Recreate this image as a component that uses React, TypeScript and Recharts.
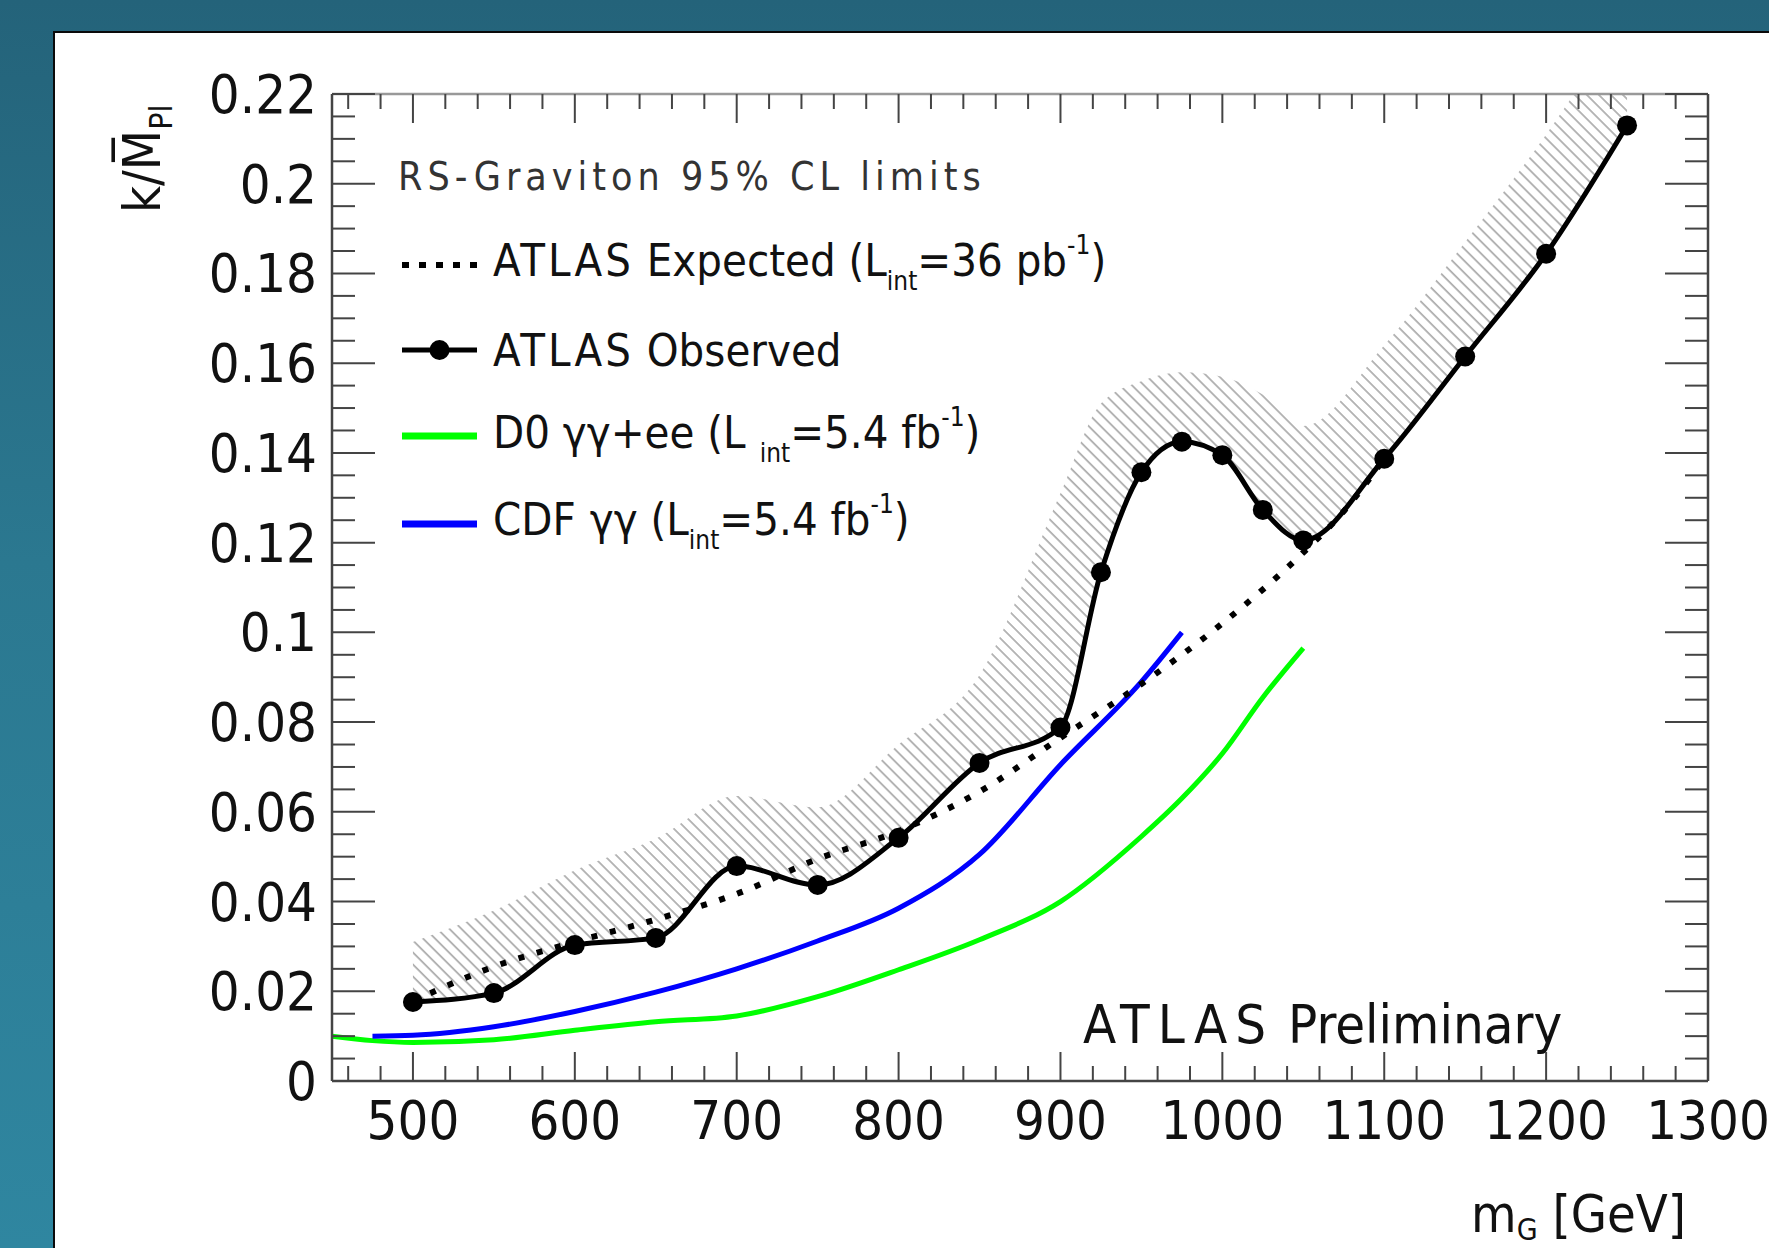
import React from "react";
import { ComposedChart, Line, Area, XAxis, YAxis, Legend, Customized } from "recharts";

// ATLAS observed limit (points with markers)
const massObserved = [500, 550, 600, 650, 700, 750, 800, 850, 900, 925, 950, 975, 1000, 1025, 1050, 1100, 1150, 1200, 1250];
const limitObserved = [0.0176, 0.0196, 0.0303, 0.0319, 0.0479, 0.0437, 0.0542, 0.0709, 0.0788, 0.1134, 0.1357, 0.1425, 0.1395, 0.1273, 0.1205, 0.1387, 0.1615, 0.1844, 0.213];
// upper edge of the hatched exclusion band, at the observed masses
const bandUpper = [0.031, 0.038, 0.047, 0.054, 0.0635, 0.061, 0.075, 0.0905, 0.131, 0.151, 0.156, 0.158, 0.157, 0.153, 0.146, 0.164, 0.187, 0.211, 0.238];

// ATLAS expected limit (dotted)
const massExpected = [500, 550, 600, 650, 700, 750, 800, 850, 900, 950, 1000, 1050, 1075, 1100];
const limitExpected = [0.0178, 0.0255, 0.031, 0.036, 0.0417, 0.0495, 0.0557, 0.0645, 0.0765, 0.0885, 0.102, 0.1178, 0.127, 0.1387];

// D0 gamma-gamma + ee
const massD0 = [450, 475, 500, 550, 600, 650, 700, 750, 800, 850, 900, 950, 975, 1000, 1025, 1050];
const limitD0 = [0.01, 0.009, 0.0086, 0.0092, 0.0113, 0.0132, 0.0145, 0.0188, 0.0248, 0.0315, 0.04, 0.0545, 0.063, 0.073, 0.0855, 0.0965];

// CDF gamma-gamma
const massCDF = [475, 500, 550, 600, 650, 700, 750, 800, 850, 900, 950, 975];
const limitCDF = [0.01, 0.0102, 0.0121, 0.0155, 0.0198, 0.025, 0.0312, 0.0385, 0.0505, 0.0705, 0.089, 0.1];

const xMajorTicks = [500, 600, 700, 800, 900, 1000, 1100, 1200, 1300];
const yMajorTicks = [0, 0.02, 0.04, 0.06, 0.08, 0.1, 0.12, 0.14, 0.16, 0.18, 0.2, 0.22];

// minor ticks: every 20 GeV, every 0.005
const xTicks: number[] = [460, 480];
xMajorTicks.forEach((v, i) => {
  xTicks.push(v);
  if (i < xMajorTicks.length - 1) [20, 40, 60, 80].forEach((d) => xTicks.push(v + d));
});
const yTicks: number[] = [];
yMajorTicks.forEach((v, i) => {
  yTicks.push(v);
  if (i < yMajorTicks.length - 1) [0.005, 0.01, 0.015].forEach((d) => yTicks.push(+(v + d).toFixed(3)));
});

const observedRows = massObserved.map((m, i) => ({ m, k: limitObserved[i] }));
const bandRows = massObserved.map((m, i) => ({ m, range: [limitObserved[i], bandUpper[i]] }));
const expectedRows = massExpected.map((m, i) => ({ m, k: limitExpected[i] }));
const d0Rows = massD0.map((m, i) => ({ m, k: limitD0[i] }));
const cdfRows = massCDF.map((m, i) => ({ m, k: limitCDF[i] }));

const FONT = "'DejaVu Sans Condensed', 'DejaVu Sans', sans-serif";
const AXIS = "#444";
const W = 1769;
const H = 1248;
const cond = { fontStretch: "condensed" } as const;

const isMajorX = (v: number) => v % 100 === 0;
const isMajorY = (v: number) => Math.abs(v / 0.02 - Math.round(v / 0.02)) < 1e-6;

function BottomTick({ x, y, payload }: any) {
  const v = payload.value;
  const major = isMajorX(v);
  return (
    <g>
      <line x1={x} x2={x} y1={y} y2={y - (major ? 29 : 15)} stroke={AXIS} strokeWidth={2} />
      {major && (
        <text x={x} y={y + 58} textAnchor="middle" fontSize={54} fontFamily={FONT} fill="#111" style={cond}>
          {v}
        </text>
      )}
    </g>
  );
}

function TopTick({ x, y, payload }: any) {
  const major = isMajorX(payload.value);
  return <line x1={x} x2={x} y1={y} y2={y + (major ? 29 : 15)} stroke={AXIS} strokeWidth={2} />;
}

function LeftTick({ x, y, payload }: any) {
  const v = payload.value;
  const major = isMajorY(v);
  return (
    <g>
      <line x1={x} x2={x + (major ? 43 : 23)} y1={y} y2={y} stroke={AXIS} strokeWidth={2} />
      {major && (
        <text x={x - 15} y={y + 19} textAnchor="end" fontSize={54} fontFamily={FONT} fill="#111" style={cond}>
          {String(+v.toFixed(2))}
        </text>
      )}
    </g>
  );
}

function RightTick({ x, y, payload }: any) {
  const major = isMajorY(payload.value);
  return <line x1={x} x2={x - (major ? 43 : 23)} y1={y} y2={y} stroke={AXIS} strokeWidth={2} />;
}

function YTitle({ viewBox }: any) {
  const x = viewBox.x - 171;
  const y = viewBox.y + 119;
  return (
    <text transform={`rotate(-90 ${x} ${y})`} x={x} y={y} fontSize={52} fontFamily={FONT} fill="#111" style={cond}>
      k/M{"\u0305"}
      <tspan fontSize={32} dy={12}>Pl</tspan>
    </text>
  );
}

function XTitle({ viewBox }: any) {
  const x = viewBox.x + viewBox.width - 22;
  const y = viewBox.y + 151;
  return (
    <text x={x} y={y} textAnchor="end" fontSize={52} fontFamily={FONT} fill="#111" style={cond}>
      m<tspan fontSize={30} dy={8}>G</tspan>
      <tspan dy={-8}> [GeV]</tspan>
    </text>
  );
}

function Preliminary() {
  return (
    <text x={1083} y={1043} fontSize={54} fontFamily={FONT} fill="#111" style={cond}>
      <tspan letterSpacing={8}>ATLAS</tspan>
      <tspan dx={14}>Preliminary</tspan>
    </text>
  );
}

function LegendBox() {
  const tx = 493;
  const x1 = 402;
  const x2 = 477;
  const txt = { fontSize: 45, fontFamily: FONT, fill: "#111", style: cond } as any;
  const small = { fontSize: 26 };
  return (
    <svg width={W} height={H} style={{ position: "absolute", left: 0, top: 0, overflow: "visible" }}>
      <text x={398} y={190} fontSize={39} fontFamily={FONT} fill="#333" letterSpacing={5} style={cond}>
        RS-Graviton 95% CL limits
      </text>

      <line x1={x1} x2={x2} y1={265} y2={265} stroke="#000" strokeWidth={6} strokeDasharray="7 10" />
      <text x={tx} y={276} {...txt}>
        <tspan letterSpacing={3}>ATLAS</tspan> Expected (L
        <tspan {...small} dy={14}>int</tspan>
        <tspan dy={-14}>=36 pb</tspan>
        <tspan {...small} dy={-22}>-1</tspan>
        <tspan dy={22}>)</tspan>
      </text>

      <line x1={x1} x2={x2} y1={350} y2={350} stroke="#000" strokeWidth={5} />
      <circle cx={(x1 + x2) / 2} cy={350} r={10} fill="#000" />
      <text x={tx} y={366} {...txt}>
        <tspan letterSpacing={3}>ATLAS</tspan> Observed
      </text>

      <line x1={x1} x2={x2} y1={436} y2={436} stroke="#00ff00" strokeWidth={7} />
      <text x={tx} y={448} {...txt}>
        D0 γγ+ee (L
        <tspan {...small} dx={14} dy={14}>int</tspan>
        <tspan dy={-14}>=5.4 fb</tspan>
        <tspan {...small} dy={-22}>-1</tspan>
        <tspan dy={22}>)</tspan>
      </text>

      <line x1={x1} x2={x2} y1={524} y2={524} stroke="#0000ff" strokeWidth={7} />
      <text x={tx} y={535} {...txt}>
        CDF<tspan dx={14}>γγ (L</tspan>
        <tspan {...small} dy={14}>int</tspan>
        <tspan dy={-14}>=5.4 fb</tspan>
        <tspan {...small} dy={-22}>-1</tspan>
        <tspan dy={22}>)</tspan>
      </text>
    </svg>
  );
}

export default function App() {
  return (
    <div
      style={{
        position: "fixed",
        left: 0,
        top: 0,
        width: W,
        height: H,
        overflow: "hidden",
        background: "linear-gradient(to bottom, #24637a 0%, #2b7890 45%, #2f86a0 100%)",
      }}
    >
      <div
        style={{
          position: "absolute",
          left: 53,
          top: 31,
          right: -4,
          bottom: -4,
          background: "#fff",
          borderLeft: "2px solid #0a0a0a",
          borderTop: "2px solid #0a0a0a",
        }}
      />
      <div style={{ position: "absolute", left: 0, top: 0 }}>
        <ComposedChart width={W} height={H} margin={{ top: 93, right: 60, bottom: 166, left: 331 }}>
          <defs>
            <pattern id="hatch" width={8.5} height={8.5} patternUnits="userSpaceOnUse" patternTransform="rotate(-45)">
              <line x1={1} y1={0} x2={1} y2={8.5} stroke="#a0a0a0" strokeWidth={1.5} />
            </pattern>
          </defs>

          <XAxis
            xAxisId="b"
            type="number"
            dataKey="m"
            domain={[450, 1300]}
            allowDataOverflow
            ticks={xTicks}
            interval={0}
            height={1}
            tickSize={0}
            tickMargin={0}
            tickLine={false}
            axisLine={{ stroke: AXIS, strokeWidth: 2.5 }}
            tick={<BottomTick />}
            label={<XTitle />}
          />
          <XAxis
            xAxisId="t"
            orientation="top"
            type="number"
            dataKey="m"
            domain={[450, 1300]}
            allowDataOverflow
            ticks={xTicks}
            interval={0}
            height={1}
            tickSize={0}
            tickMargin={0}
            tickLine={false}
            axisLine={{ stroke: "#999", strokeWidth: 2.5 }}
            tick={<TopTick />}
          />
          <YAxis
            yAxisId="l"
            type="number"
            domain={[0, 0.22]}
            allowDataOverflow
            ticks={yTicks}
            interval={0}
            width={1}
            tickSize={0}
            tickMargin={0}
            tickLine={false}
            axisLine={{ stroke: AXIS, strokeWidth: 2.5 }}
            tick={<LeftTick />}
            label={<YTitle />}
          />
          <YAxis
            yAxisId="r"
            orientation="right"
            type="number"
            domain={[0, 0.22]}
            allowDataOverflow
            ticks={yTicks}
            interval={0}
            width={1}
            tickSize={0}
            tickMargin={0}
            tickLine={false}
            axisLine={{ stroke: AXIS, strokeWidth: 2.5 }}
            tick={<RightTick />}
          />

          <Area
            xAxisId="b"
            yAxisId="l"
            data={bandRows}
            dataKey="range"
            type="monotone"
            fill="url(#hatch)"
            fillOpacity={1}
            stroke="none"
            legendType="none"
            isAnimationActive={false}
          />
          <Line xAxisId="b" yAxisId="l" data={d0Rows} dataKey="k" name="D0" type="monotone" stroke="#00ff00" strokeWidth={5} dot={false} isAnimationActive={false} />
          <Line xAxisId="b" yAxisId="l" data={cdfRows} dataKey="k" name="CDF" type="monotone" stroke="#0000ff" strokeWidth={5} dot={false} isAnimationActive={false} />
          <Line
            xAxisId="b"
            yAxisId="l"
            data={expectedRows}
            dataKey="k"
            name="Expected"
            type="monotone"
            stroke="#000"
            strokeWidth={6}
            strokeDasharray="6 13"
            dot={false}
            isAnimationActive={false}
          />
          <Line
            xAxisId="b"
            yAxisId="l"
            data={observedRows}
            dataKey="k"
            name="Observed"
            type="monotone"
            stroke="#000"
            strokeWidth={5}
            dot={{ r: 10, fill: "#000", stroke: "#000", strokeWidth: 0 }}
            isAnimationActive={false}
          />
          <Customized component={<Preliminary />} />
          <Legend
            layout="horizontal"
            verticalAlign="middle"
            align="center"
            content={<LegendBox />}
            wrapperStyle={{ left: 0, top: 0, width: W, height: H, pointerEvents: "none" }}
          />
        </ComposedChart>
      </div>
    </div>
  );
}
